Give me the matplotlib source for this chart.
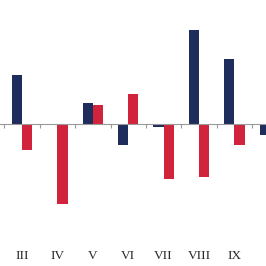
import numpy as np
import matplotlib.pyplot as plt

# visible categories (chart is cropped on both sides)
categories = ["III", "IV", "V", "VI", "VII", "VIII", "IX", "X"]
navy_vals = [49, -1, 21, -21, -3, 94, 65, -11]
red_vals = [-26, -80, 19, 30, -55, -53, -21, -15]

navy = "#1f2d5c"
red = "#d2233d"

fig = plt.figure(figsize=(2.66, 2.66), dpi=100)
ax = fig.add_axes([0, 0, 1, 1])

x = np.arange(len(categories))
w = 0.29
ax.bar(x - w / 2, navy_vals, width=w, color=navy)
ax.bar(x + w / 2, red_vals, width=w, color=red)

for s in ["top", "right", "left"]:
    ax.spines[s].set_visible(False)
ax.spines["bottom"].set_position(("data", 0))
ax.spines["bottom"].set_color("#9a9a9a")
ax.spines["bottom"].set_linewidth(0.8)
ax.set_axisbelow(False)

ax.set_yticks([])
ax.set_xticks(x)
ax.set_xticklabels(categories, family="Liberation Serif", fontsize=9.5, color="#2a2a2a")
ax.set_xticks(np.arange(-0.5, len(categories) + 0.5), minor=True)
ax.tick_params(axis="x", which="major", length=0, pad=91)
ax.tick_params(axis="x", which="minor", length=3, width=0.8, color="#9a9a9a", direction="out")

# 35.4 px per category, III centred at px 22 (set after ticks so they don't widen it)
xmin = -22 / 35.4
ax.set_xlim(xmin, xmin + 266 / 35.4)
ax.set_ylim(-142, 124)

fig.savefig("out.png", dpi=100)
